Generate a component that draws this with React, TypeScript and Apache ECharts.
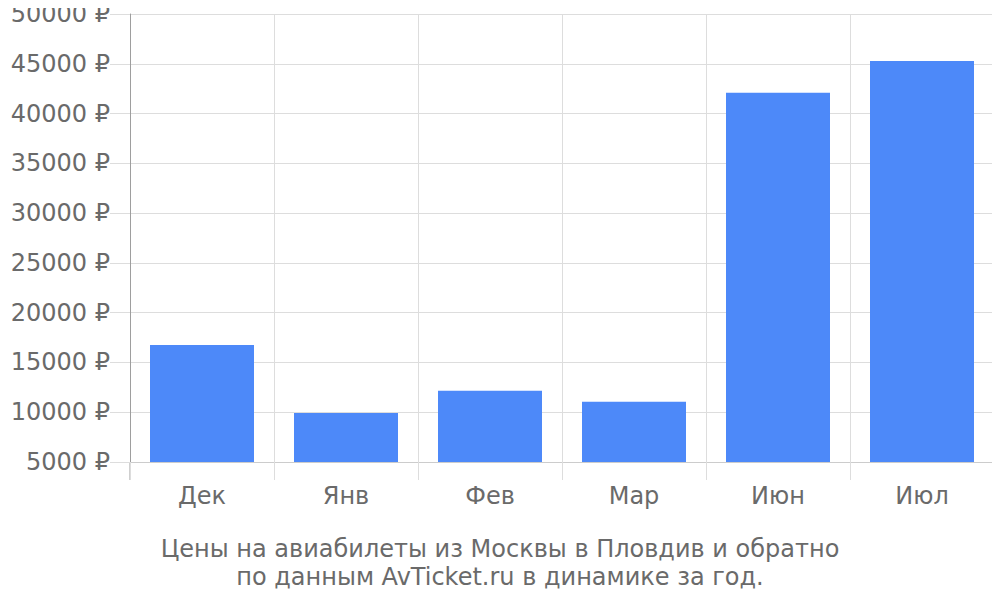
import * as echarts from "echarts";
import { useEffect, useRef } from "react";

const months = ["Дек", "Янв", "Фев", "Мар", "Июн", "Июл"];
const prices = [16750, 9920, 12150, 11050, 42080, 45280];
const titleLines = ["Цены на авиабилеты из Москвы в Пловдив и обратно", "по данным AvTicket.ru в динамике за год."];

const textColor = "#6a6a6a";
const gridColor = "#dddddd";
const axisColor = "#9e9e9e";

export default function App() {
	const chartRef = useRef<HTMLDivElement>(null);

	useEffect(() => {
		if (!chartRef.current) return;
		const chart = echarts.init(chartRef.current, null, { renderer: "svg" });

		chart.setOption({
			animation: false,
			backgroundColor: "#ffffff",
			textStyle: { fontFamily: "DejaVu Sans" },
			title: {
				text: titleLines.join("\n"),
				left: "center",
				top: 530,
				textStyle: {
					fontFamily: "DejaVu Sans",
					fontSize: 24,
					fontWeight: "normal",
					color: textColor,
					lineHeight: 28
				}
			},
			grid: { left: 130, right: 6, top: 14, bottom: 138 },
			xAxis: {
				type: "category",
				data: months,
				axisLine: { show: true, lineStyle: { color: "#cccccc" } },
				axisTick: { show: true, length: 18, lineStyle: { color: gridColor } },
				splitLine: { show: true, lineStyle: { color: gridColor } },
				axisLabel: { color: textColor, fontSize: 24, margin: 22 }
			},
			yAxis: {
				type: "value",
				min: 5000,
				max: 50000,
				interval: 5000,
				axisLine: { show: true, lineStyle: { color: axisColor } },
				axisTick: { show: true, length: 20, lineStyle: { color: gridColor } },
				splitLine: { show: true, lineStyle: { color: gridColor } },
				axisLabel: {
					color: textColor,
					fontSize: 24,
					margin: 20,
					formatter: (v: number) => `${v} ₽`
				}
			},
			graphic: [
				{
					type: "line",
					shape: { x1: 130, y1: 462, x2: 130, y2: 480 },
					style: { stroke: axisColor, lineWidth: 1 }
				}
			],
			series: [
				{
					type: "bar",
					data: prices,
					barWidth: 104,
					itemStyle: { color: "#4d89f9" }
				}
			]
		});

		return () => chart.dispose();
	}, []);

	return <div ref={chartRef} style={{ width: 1000, height: 600, margin: -8 }} />;
}
